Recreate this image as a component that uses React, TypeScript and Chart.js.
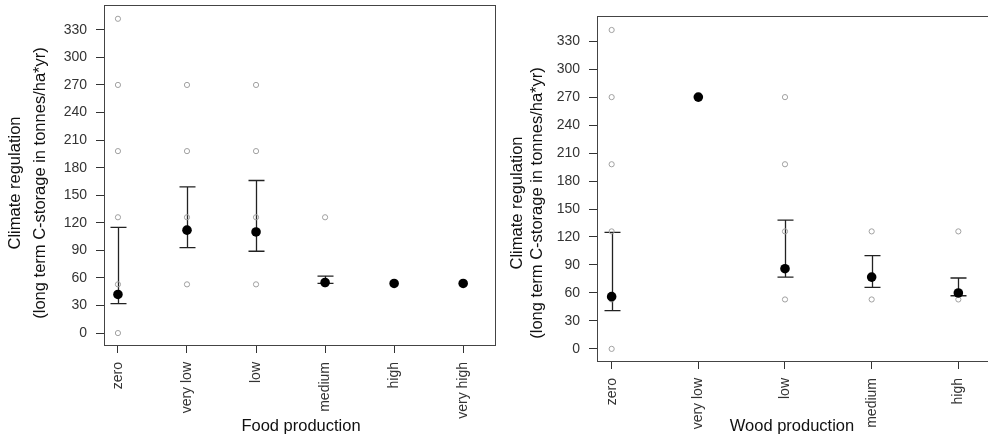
import React, { useEffect, useRef } from "react";
import { Chart, registerables } from "chart.js";

Chart.register(...registerables);

// ---------- data ----------
const yTickValues = [0, 30, 60, 90, 120, 150, 180, 210, 240, 270, 300, 330];
const yTitleLine1 = "Climate regulation";
const yTitleLine2 = "(long term C-storage in tonnes/ha*yr)";

const foodTitle = "Food production";
const foodCategories = ["zero", "very low", "low", "medium", "high", "very high"];
const foodObservations = [
  [0, 53, 126, 198, 270, 342],
  [53, 126, 198, 270],
  [53, 126, 198, 270],
  [53, 126],
  [53],
  [53],
];
const foodMeans = [42, 112, 110, 55, 54, 54];
const foodUpper = [115, 159, 166, 62, null, null];
const foodLower = [32, 93, 89, 54, null, null];

const woodTitle = "Wood production";
const woodCategories = ["zero", "very low", "low", "medium", "high"];
const woodObservations = [
  [0, 53, 126, 198, 270, 342],
  [270],
  [53, 126, 198, 270],
  [53, 126],
  [53, 126],
];
const woodMeans = [56, 270, 86, 77, 60];
const woodUpper = [125, null, 138, 100, 76];
const woodLower = [41, null, 77, 66, 57];

// ---------- chart ----------
const FONT = "'Liberation Sans', Arial, sans-serif";

type Geo = {
  width: number;
  height: number;
  padTop: number;
  padRight: number;
  yAxisWidth: number;
  xAxisHeight: number;
  xMin: number;
  xMax: number;
  yMin: number;
  yMax: number;
  t1x: number;
  t2x: number;
  ty: number;
  xtx: number;
  xty: number;
};

function buildConfig(
  categories: string[],
  obs: number[][],
  means: number[],
  upper: (number | null)[],
  lower: (number | null)[],
  xTitle: string,
  g: Geo
): any {
  const obsPoints: { x: number; y: number }[] = [];
  obs.forEach((vals, i) => vals.forEach((v) => obsPoints.push({ x: i + 1, y: v })));
  const meanPoints = means.map((m, i) => ({ x: i + 1, y: m }));

  const errorBars = {
    id: "errorBars",
    beforeDatasetsDraw(chart: any) {
      const { ctx, scales } = chart;
      const xs = scales.x;
      const ys = scales.y;
      ctx.save();
      ctx.strokeStyle = "#222";
      ctx.lineWidth = 1.3;
      categories.forEach((_, i) => {
        const u = upper[i];
        const l = lower[i];
        if (u == null || l == null) return;
        const px = Math.round(xs.getPixelForValue(i + 1)) + 0.5;
        const pu = ys.getPixelForValue(u);
        const pl = ys.getPixelForValue(l);
        ctx.beginPath();
        ctx.moveTo(px, pu);
        ctx.lineTo(px, pl);
        ctx.moveTo(px - 8, pu);
        ctx.lineTo(px + 8, pu);
        ctx.moveTo(px - 8, pl);
        ctx.lineTo(px + 8, pl);
        ctx.stroke();
      });
      ctx.restore();
    },
  };

  const frame = {
    id: "frame",
    afterDraw(chart: any) {
      const { ctx, chartArea } = chart;
      ctx.save();
      ctx.strokeStyle = "#444";
      ctx.lineWidth = 1;
      ctx.strokeRect(
        Math.round(chartArea.left) + 0.5,
        Math.round(chartArea.top) + 0.5,
        Math.round(chartArea.right - chartArea.left),
        Math.round(chartArea.bottom - chartArea.top)
      );
      ctx.fillStyle = "#111";
      ctx.font = `16.5px ${FONT}`;
      ctx.textAlign = "center";
      ctx.textBaseline = "middle";
      ctx.save();
      ctx.translate(g.t1x, g.ty);
      ctx.rotate(-Math.PI / 2);
      ctx.fillText(yTitleLine1, 0, 0);
      ctx.restore();
      ctx.save();
      ctx.translate(g.t2x, g.ty);
      ctx.rotate(-Math.PI / 2);
      ctx.fillText(yTitleLine2, 0, 0);
      ctx.restore();
      ctx.fillText(xTitle, g.xtx, g.xty);
      ctx.restore();
    },
  };

  return {
    type: "scatter",
    data: {
      datasets: [
        {
          data: obsPoints,
          order: 2,
          pointStyle: "circle",
          pointRadius: 2.6,
          pointBorderWidth: 1,
          pointBorderColor: "#a0a0a0",
          pointBackgroundColor: "rgba(0,0,0,0)",
          showLine: false,
        },
        {
          data: meanPoints,
          order: 1,
          pointStyle: "circle",
          pointRadius: 4.8,
          pointBorderWidth: 0,
          pointBorderColor: "#000",
          pointBackgroundColor: "#000",
          showLine: false,
        },
      ],
    },
    options: {
      animation: false,
      responsive: false,
      events: [],
      layout: { padding: { top: g.padTop, right: g.padRight, left: 0, bottom: 0 } },
      plugins: { legend: { display: false }, tooltip: { enabled: false }, title: { display: false } },
      scales: {
        x: {
          type: "linear",
          min: g.xMin,
          max: g.xMax,
          afterBuildTicks(scale: any) {
            scale.ticks = categories.map((_, i) => ({ value: i + 1 }));
          },
          afterFit(scale: any) {
            scale.height = g.xAxisHeight;
            scale.paddingLeft = 0;
            scale.paddingRight = 0;
          },
          ticks: {
            autoSkip: false,
            minRotation: 90,
            maxRotation: 90,
            padding: 9,
            color: "#333",
            font: { family: FONT, size: 14 },
            callback: (v: number) => categories[Math.round(v) - 1] ?? "",
          },
          grid: { display: true, drawOnChartArea: false, drawTicks: true, tickLength: 8, color: "#333", lineWidth: 1 },
          border: { display: false },
        },
        y: {
          type: "linear",
          min: g.yMin,
          max: g.yMax,
          afterBuildTicks(scale: any) {
            scale.ticks = yTickValues.map((v) => ({ value: v }));
          },
          afterFit(scale: any) {
            scale.width = g.yAxisWidth;
            scale.paddingTop = 0;
            scale.paddingBottom = 0;
          },
          ticks: {
            padding: 9,
            color: "#333",
            font: { family: FONT, size: 14 },
            callback: (v: number) => String(v),
          },
          grid: { display: true, drawOnChartArea: false, drawTicks: true, tickLength: 8, color: "#333", lineWidth: 1 },
          border: { display: false },
        },
      },
    },
    plugins: [errorBars, frame],
  };
}

function Panel(props: {
  left: number;
  categories: string[];
  obs: number[][];
  means: number[];
  upper: (number | null)[];
  lower: (number | null)[];
  xTitle: string;
  g: Geo;
}) {
  const ref = useRef<HTMLCanvasElement | null>(null);
  useEffect(() => {
    if (!ref.current) return;
    const chart = new Chart(
      ref.current,
      buildConfig(props.categories, props.obs, props.means, props.upper, props.lower, props.xTitle, props.g)
    );
    return () => chart.destroy();
  }, []);
  return (
    <div style={{ position: "absolute", left: props.left, top: 0, width: props.g.width, height: props.g.height }}>
      <canvas ref={ref} width={props.g.width} height={props.g.height} style={{ display: "block" }} />
    </div>
  );
}

const foodGeo: Geo = {
  width: 500,
  height: 439,
  padTop: 5,
  padRight: 3,
  yAxisWidth: 104,
  xAxisHeight: 94,
  xMin: 0.798,
  xMax: 6.461,
  yMin: -13,
  yMax: 357,
  t1x: 15,
  t2x: 40,
  ty: 183,
  xtx: 301,
  xty: 426,
};

const woodGeo: Geo = {
  width: 512,
  height: 439,
  padTop: 16,
  padRight: 4,
  yAxisWidth: 107,
  xAxisHeight: 78,
  xMin: 0.831,
  xMax: 5.446,
  yMin: -13,
  yMax: 357,
  t1x: 27,
  t2x: 47,
  ty: 203,
  xtx: 302,
  xty: 426,
};

export default function App() {
  return (
    <div
      style={{
        position: "fixed",
        left: 0,
        top: 0,
        width: 988,
        height: 439,
        overflow: "hidden",
        background: "#fff",
      }}
    >
      <Panel
        left={0}
        categories={foodCategories}
        obs={foodObservations}
        means={foodMeans}
        upper={foodUpper}
        lower={foodLower}
        xTitle={foodTitle}
        g={foodGeo}
      />
      <Panel
        left={490}
        categories={woodCategories}
        obs={woodObservations}
        means={woodMeans}
        upper={woodUpper}
        lower={woodLower}
        xTitle={woodTitle}
        g={woodGeo}
      />
    </div>
  );
}
